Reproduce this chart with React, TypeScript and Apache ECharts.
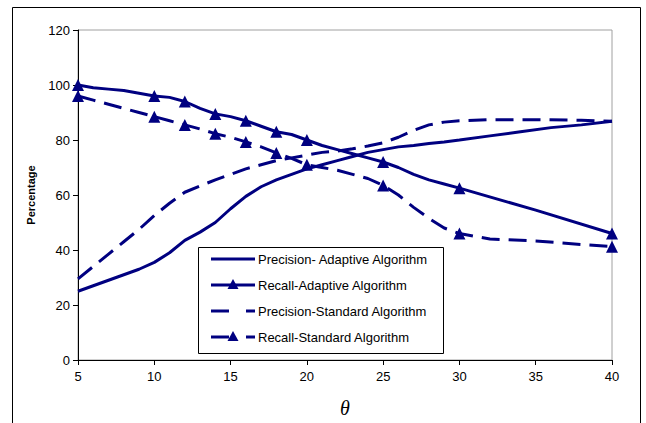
import React, { useEffect, useRef } from "react";
import * as echarts from "echarts";

const xTicks = [5, 10, 15, 20, 25, 30, 35, 40];
const markerThetas = [5, 10, 12, 14, 16, 18, 20, 25, 30, 40];

const precAdaptTheta = [5, 6, 7, 8, 9, 10, 11, 12, 13, 14, 15, 16, 17, 18, 19, 20, 21, 22, 23, 24, 25, 26, 27, 28, 29, 30, 32, 34, 36, 38, 40];
const precAdaptVals = [25, 27, 29, 31, 33, 35.5, 39, 43.5, 46.5, 50, 55, 59.5, 63, 65.5, 67.5, 69.5, 71, 72.5, 74, 75.5, 76.5, 77.5, 78, 78.7, 79.3, 80, 81.5, 83, 84.5, 85.5, 86.8];

const recAdaptTheta = [5, 6, 7, 8, 9, 10, 11, 12, 13, 14, 15, 16, 17, 18, 19, 20, 21, 22, 23, 24, 25, 26, 27, 28, 29, 30, 35, 40];
const recAdaptVals = [100, 99, 98.5, 98, 97, 96, 95.5, 94, 91.5, 89.5, 88.5, 87, 85, 83, 82, 80, 78, 76.5, 75, 73.5, 72, 70, 67.5, 65.5, 64, 62.5, 54.5, 46];

const precStdTheta = [5, 6, 7, 8, 9, 10, 11, 12, 13, 14, 15, 16, 17, 18, 19, 20, 21, 22, 23, 24, 25, 26, 27, 28, 29, 30, 32, 35, 38, 40];
const precStdVals = [29.5, 34, 38.5, 43, 47.5, 52.5, 57, 61, 63.3, 65.5, 67.5, 69.5, 71, 72.5, 73.5, 74.5, 75.5, 76, 76.8, 77.8, 79, 81, 83.5, 85.5, 86.5, 87, 87.4, 87.4, 87.2, 86.8];

const recStdTheta = [5, 6, 7, 8, 9, 10, 11, 12, 13, 14, 15, 16, 17, 18, 19, 20, 21, 22, 23, 24, 25, 26, 27, 28, 29, 30, 32, 35, 38, 40];
const recStdVals = [96, 94.5, 93, 91.5, 90, 88.5, 87, 85.5, 84, 82.3, 81, 79.3, 77.5, 75.3, 73.3, 71, 70, 69, 67.5, 66, 63.5, 60, 55.5, 51.5, 48, 46, 44, 43.3, 42, 41.2];

const seriesNames = [
  "Precision- Adaptive Algorithm",
  "Recall-Adaptive Algorithm",
  "Precision-Standard Algorithm",
  "Recall-Standard Algorithm",
];
const seriesDashed = [false, false, true, true];
const seriesMarkers = [false, true, false, true];

const NAVY = "#000080";
const FONT = "'Liberation Sans', Arial, sans-serif";

function build(thetas: number[], vals: number[], markers: boolean) {
  return thetas.map((t, i) => {
    const item: any = { value: [t, vals[i]] };
    if (markers && markerThetas.indexOf(t) < 0) item.symbol = "none";
    return item;
  });
}

function legendGraphics() {
  const els: any[] = [];
  const bx = 198, by = 247, bw = 245, bh = 106;
  els.push({
    type: "rect",
    shape: { x: bx + 0.5, y: by + 0.5, width: bw, height: bh },
    style: { fill: "#fff", stroke: "#000", lineWidth: 1 },
    z: 10,
  });
  seriesNames.forEach((name, i) => {
    const cy = 259 + i * 26;
    if (seriesDashed[i]) {
      els.push({ type: "line", shape: { x1: 211, y1: cy, x2: 229, y2: cy }, style: { stroke: NAVY, lineWidth: 3 }, z: 11 });
      els.push({ type: "line", shape: { x1: 246, y1: cy, x2: 255, y2: cy }, style: { stroke: NAVY, lineWidth: 3 }, z: 11 });
    } else {
      els.push({ type: "line", shape: { x1: 211, y1: cy, x2: 255, y2: cy }, style: { stroke: NAVY, lineWidth: 3 }, z: 11 });
    }
    if (seriesMarkers[i]) {
      els.push({
        type: "polygon",
        shape: { points: [[233, cy - 6], [227.5, cy + 4], [238.5, cy + 4]] },
        style: { fill: NAVY },
        z: 12,
      });
    }
    els.push({
      type: "text",
      x: 258,
      y: cy,
      style: { text: name, font: `13px ${FONT}`, fill: "#000", verticalAlign: "middle", align: "left" },
      z: 12,
    });
  });
  return els;
}

export default function App() {
  const ref = useRef<HTMLDivElement>(null);
  useEffect(() => {
    const chart = echarts.init(ref.current!, null, { renderer: "svg" });
    const dash = [18, 9];
    const mk = (i: number, data: any[]) => ({
      name: seriesNames[i],
      type: "line",
      data,
      symbol: seriesMarkers[i] ? "triangle" : "none",
      symbolSize: 12,
      showSymbol: true,
      itemStyle: { color: NAVY },
      lineStyle: { color: NAVY, width: 3, type: seriesDashed[i] ? dash : "solid" },
      z: 3,
    });
    chart.setOption({
      animation: false,
      grid: {
        left: 78,
        right: 34,
        top: 30,
        bottom: 63,
        show: true,
        borderColor: "#a0a0a0",
        borderWidth: 1,
      },
      xAxis: {
        type: "value",
        min: 5,
        max: 40,
        interval: 5,
        axisLine: { show: true, lineStyle: { color: "#000", width: 1 } },
        axisTick: { show: true, length: 5, lineStyle: { color: "#000" } },
        axisLabel: { color: "#000", fontSize: 13, fontFamily: FONT, margin: 10 },
        splitLine: { show: false },
      },
      yAxis: {
        type: "value",
        min: 0,
        max: 120,
        interval: 20,
        name: "Percentage",
        nameLocation: "middle",
        nameGap: 42,
        nameTextStyle: { color: "#000", fontSize: 11, fontWeight: "bold", fontFamily: FONT },
        axisLine: { show: true, lineStyle: { color: "#000", width: 1 } },
        axisTick: { show: true, length: 5, lineStyle: { color: "#000" } },
        axisLabel: { color: "#000", fontSize: 13, fontFamily: FONT, margin: 8 },
        splitLine: { show: false },
      },
      graphic: [
        {
          type: "rect",
          shape: { x: 12.5, y: 7.5, width: 628, height: 500 },
          style: { fill: "none", stroke: "#000", lineWidth: 1 },
          silent: true,
        },
        {
          type: "text",
          x: 345,
          y: 408,
          style: {
            text: "θ",
            font: "italic 20px 'Liberation Serif', 'Times New Roman', serif",
            fill: "#000",
            align: "center",
            verticalAlign: "middle",
          },
        },
        ...legendGraphics(),
      ],
      series: [
        mk(0, build(precAdaptTheta, precAdaptVals, false)),
        mk(1, build(recAdaptTheta, recAdaptVals, true)),
        mk(2, build(precStdTheta, precStdVals, false)),
        mk(3, build(recStdTheta, recStdVals, true)),
      ],
    } as any);
    return () => chart.dispose();
  }, []);
  return (
    <div
      ref={ref}
      style={{ position: "fixed", left: 0, top: 0, width: 646, height: 423, background: "#fff" }}
    />
  );
}
